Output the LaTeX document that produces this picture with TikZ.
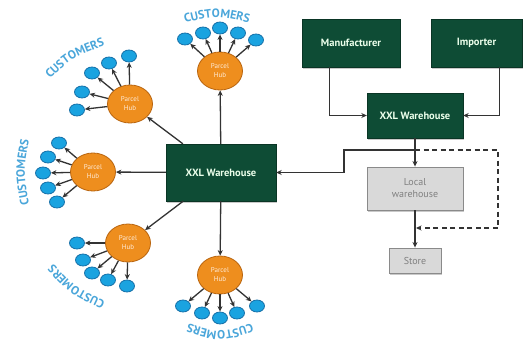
\documentclass[tikz,border=0pt]{standalone}
\usepackage{fontspec}
\setmainfont{PT Sans}
\usetikzlibrary{shapes.geometric,arrows.meta,shadows,decorations.text}
\definecolor{dgreen}{HTML}{0E4C35}
\definecolor{hubor}{HTML}{EE8E1E}
\definecolor{hubedge}{HTML}{B9650F}
\definecolor{cust}{HTML}{1AA3E0}
\definecolor{custedge}{HTML}{1670A8}
\definecolor{custtxt}{HTML}{4AA6DA}
\definecolor{lgray}{HTML}{D9D9D9}
\definecolor{lgedge}{HTML}{8A8A8A}
\definecolor{arrc}{HTML}{333333}
\begin{document}
\begin{tikzpicture}[x=1pt,y=-1pt,
  shad/.style={drop shadow={opacity=0.35,shadow xshift=1.2pt,shadow yshift=-1.5pt,fill=black!60}},
  gbox/.style={rectangle, fill=dgreen, draw=dgreen!70!black, text=white!92!green, inner sep=0pt,
     font=\bfseries\fontsize{10.5}{12}\selectfont, shad},
  graybox/.style={rectangle, fill=lgray, draw=lgedge, line width=0.9pt, text=black!50, inner sep=0pt,
     align=center, font=\fontsize{10}{12}\selectfont, shad},
  hub/.style={ellipse, fill=hubor, draw=hubedge, line width=0.8pt, minimum width=45pt, minimum height=38pt,
     inner sep=0pt, align=center, text=white!85!orange, font=\fontsize{7}{9}\selectfont},
  cst/.style={ellipse, fill=cust, draw=custedge, line width=0.8pt, minimum width=15pt, minimum height=12pt, inner sep=0pt},
  clabel/.style={decorate, decoration={text along path, text align=center, text color=custtxt,
     text={|\bfseries\fontsize{12}{13}\selectfont|CUSTOMERS}}},
  arr/.style={draw=arrc, line width=1.3pt, -{Stealth[length=5.5pt,width=5pt]}},
  darr/.style={arr, dash pattern=on 5pt off 3.5pt}
]
\useasboundingbox[fill=white] (0,0) rectangle (524,345);

% boxes
\node[gbox, minimum width=110pt, minimum height=57pt] (main) at (221,172.5) {XXL Warehouse};
\node[gbox, minimum width=98pt, minimum height=48pt] (man) at (351,43) {Manufacturer};
\node[gbox, minimum width=91pt, minimum height=48pt] (imp) at (476.5,43) {Importer};
\node[gbox, minimum width=96pt, minimum height=45pt] (xxl2) at (415,115.5) {XXL Warehouse};
\node[graybox, minimum width=96pt, minimum height=43pt] (loc) at (415,188.5) {Local\\warehouse};
\node[graybox, minimum width=52pt, minimum height=25pt] (store) at (415,260.5) {Store};

% right side connectors
\draw[arr] (man.south west) ++(28,0) |- (xxl2.west);
\draw[arr] (imp.south east) ++(-22.5,0) |- (xxl2.east);
\coordinate (j) at (415,150);
\coordinate (k) at (416,228);
\draw[darr] (j) -- ++(83,0) |- (k);
\draw[arr] (j) -- ++(-71,0) |- (main.east);
\draw[arr] (xxl2.south) -- (loc.north);
\draw[arr] (loc.south) -- (store.north);

% hubs
\node[hub] (ht) at (220,71) {Parcel\\Hub};
\node[hub] (hul) at (130,104) {Parcel\\Hub};
\node[hub] (hl) at (93,172) {Parcel\\Hub};
\node[hub] (hll) at (128,243) {Parcel\\Hub};
\node[hub] (hb) at (220,275) {Parcel\\Hub};

\draw[arr] (main) -- (ht);
\draw[arr] (main) -- (hul);
\draw[arr] (main) -- (hl);
\draw[arr] (main) -- (hll);
\draw[arr] (main) -- (hb);

% customers
\foreach \n/\x/\y in {1/185/39, 2/203/33, 3/220/28, 4/238/33, 5/256/40}
  {\node[cst] (t\n) at (\x,\y) {}; \draw[arr] (ht) -- (t\n);}
\foreach \n/\x/\y in {1/77/110, 2/82/92, 3/92/73, 4/109/63, 5/129/56}
  {\node[cst] (u\n) at (\x,\y) {}; \draw[arr] (hul) -- (u\n);}
\foreach \n/\x/\y in {1/59/143, 2/48/157, 3/43/173, 4/48/188, 5/57/202}
  {\node[cst] (l\n) at (\x,\y) {}; \draw[arr] (hl) -- (l\n);}
\foreach \n/\x/\y in {1/77/243, 2/83/260, 3/92/273, 4/108/280, 5/127/286}
  {\node[cst] (w\n) at (\x,\y) {}; \draw[arr] (hll) -- (w\n);}
\foreach \n/\x/\y in {1/183/306, 2/202/313, 3/220/318, 4/237/313, 5/257/306}
  {\node[cst] (b\n) at (\x,\y) {}; \draw[arr] (hb) -- (b\n);}

% customer labels (arched)
\path[clabel] (180,24) .. controls (217,15) .. (254,24);
\path[clabel] (46.4,82.2) .. controls (71.7,58) .. (109.6,43.8);
\path[clabel] (30,209) .. controls (23,172) .. (30,135);
\path[clabel] (110,303.8) .. controls (74,287) .. (50,260.2);
\path[clabel] (257,322) .. controls (220,334) .. (183,322);
\end{tikzpicture}
\end{document}
